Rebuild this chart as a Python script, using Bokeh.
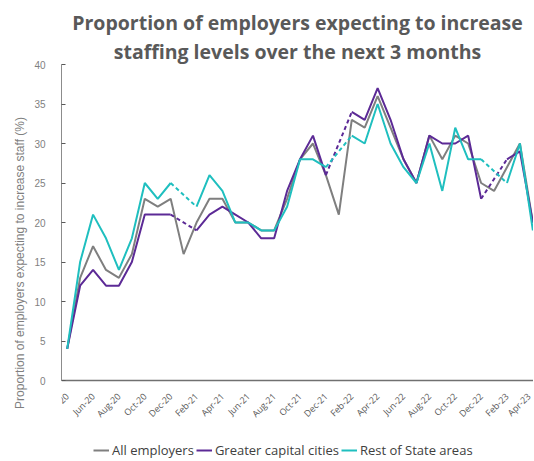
import math
import numpy as np
from bokeh.plotting import figure
from bokeh.models import FixedTicker, Legend, LegendItem, Title, Range1d
from bokeh.embed import file_html
from bokeh.resources import INLINE

months = ["Apr-20", "May-20", "Jun-20", "Jul-20", "Aug-20", "Sep-20", "Oct-20", "Nov-20",
          "Dec-20", "Jan-21", "Feb-21", "Mar-21", "Apr-21", "May-21", "Jun-21", "Jul-21",
          "Aug-21", "Sep-21", "Oct-21", "Nov-21", "Dec-21", "Jan-22", "Feb-22", "Mar-22",
          "Apr-22", "May-22", "Jun-22", "Jul-22", "Aug-22", "Sep-22", "Oct-22", "Nov-22",
          "Dec-22", "Jan-23", "Feb-23", "Mar-23", "Apr-23"]

all_employers = [4, 13, 17, 14, 13, 16, 23, 22, 23, 16, 20, 23, 23, 20, 20, 19, 19, 23,
                 28, 30, 26, 21, 33, 32, 36, 32, 28, 25, 31, 28, 31, 30, 25, 24, 27, 30, 20]
capital_cities = [4, 12, 14, 12, 12, 15, 21, 21, 21, None, 19, 21, 22, 21, 20, 18, 18, 24,
                  28, 31, 26, None, 34, 33, 37, 33, 28, 25, 31, 30, 30, 31, 23, None, 28, 29, 20]
rest_of_state = [4, 15, 21, 18, 14, 18, 25, 23, 25, None, 22, 26, 24, 20, 20, 19, 19, 22,
                 28, 28, 27, None, 31, 30, 35, 30, 27, 25, 30, 24, 32, 28, 28, None, 25, 30, 19]

series_names = ["All employers", "Greater capital cities", "Rest of State areas"]
series_colors = ["#7f7f7f", "#5c2a96", "#1fbfbf"]
y_ticks = [0, 5, 10, 15, 20, 25, 30, 35, 40]

title_lines = ["Proportion of employers expecting to increase",
               "staffing levels over the next 3 months"]
y_label = "Proportion of employers expecting to increase staff (%)"

x = np.arange(len(months))

# frame extends below 0 so that the x axis (fixed at 0) and the legend sit inside it
p = figure(frame_width=472, frame_height=397, output_backend="svg", toolbar_location=None,
           title=None,
           x_range=Range1d(-0.44, 36.05), y_range=Range1d(-10.25, 40),
           min_border_left=61, min_border_right=0, min_border_top=64, min_border_bottom=0)
p.outline_line_color = None
p.grid.visible = False
p.background_fill_color = "white"
p.border_fill_color = "white"

# Titles (last added sits on top)
for line in reversed(title_lines):
    t = Title(text=line, align="center", text_font="Open Sans", text_font_size="19.5px",
              text_font_style="bold", text_color="#595959", standoff=0)
    p.add_layout(t, "above")

items = []
for name, vals, col in zip(series_names, [all_employers, capital_cities, rest_of_state], series_colors):
    y = np.array([np.nan if v is None else v for v in vals], dtype=float)
    r = p.line(x, y, line_color=col, line_width=2)
    # dashed connections across missing months
    x0, y0, x1, y1 = [], [], [], []
    for k in range(1, len(y) - 1):
        if np.isnan(y[k]) and not np.isnan(y[k - 1]) and not np.isnan(y[k + 1]):
            x0.append(x[k - 1]); y0.append(y[k - 1]); x1.append(x[k + 1]); y1.append(y[k + 1])
    if x0:
        p.segment(x0, y0, x1, y1, line_color=col, line_width=2, line_dash="4 3")
    items.append(LegendItem(label=name, renderers=[r]))

# Y axis
ya = p.yaxis[0]
ya.ticker = FixedTicker(ticks=y_ticks)
ya.bounds = (0, 40)
ya.axis_label = y_label
ya.axis_label_text_font = "Liberation Sans"
ya.axis_label_text_font_size = "12px"
ya.axis_label_text_font_style = "normal"
ya.axis_label_text_color = "#7f7f7f"
ya.axis_label_standoff = 4
ya.major_label_text_font = "Liberation Sans"
ya.major_label_text_font_size = "10px"
ya.major_label_text_color = "#7f7f7f"
ya.major_label_standoff = 16
ya.major_tick_in = 4
ya.major_tick_out = 0
ya.minor_tick_line_color = None
ya.axis_line_color = "#8c8c8c"
ya.major_tick_line_color = "#595959"

# X axis, drawn at y = 0
xa = p.xaxis[0]
xa.fixed_location = 0
xa.ticker = FixedTicker(ticks=list(range(0, len(months), 2)))
xa.major_label_overrides = {i: months[i] for i in range(0, len(months), 2)}
xa.major_label_orientation = math.pi / 4
xa.major_label_text_font = "Open Sans"
xa.major_label_text_font_size = "9px"
xa.major_label_text_color = "#595959"
xa.major_label_standoff = 8
xa.major_tick_line_color = None
xa.minor_tick_line_color = None
xa.axis_line_color = "#707070"
xa.axis_line_width = 1.5

legend = Legend(items=items, orientation="horizontal", location=(32, 2),
                label_text_font="Open Sans", label_text_font_size="13px",
                label_text_color="#404040", glyph_width=16, glyph_height=14,
                label_height=14, label_standoff=3,
                spacing=2, padding=0, margin=0, border_line_color=None,
                background_fill_alpha=0)
p.add_layout(legend, "center")

open("out.html", "w").write(file_html(p, INLINE))
